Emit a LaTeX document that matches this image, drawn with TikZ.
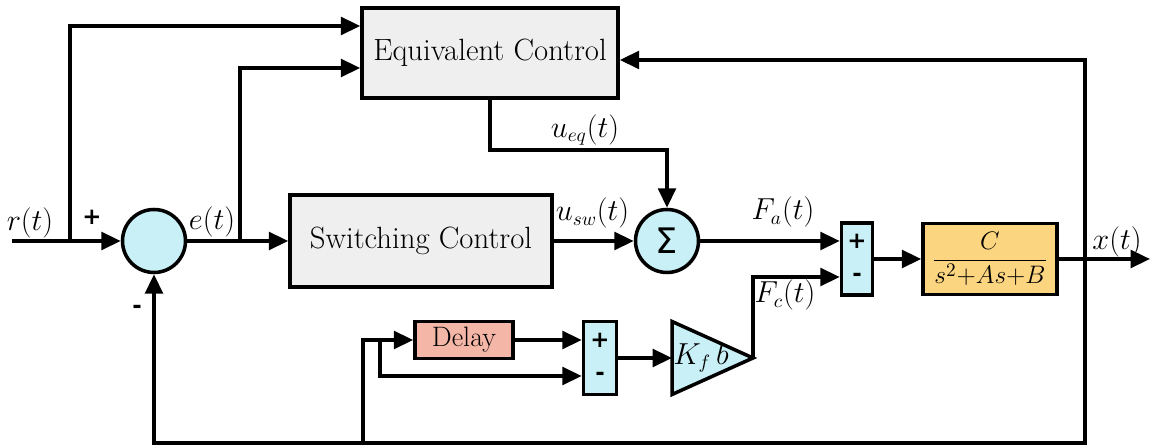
\documentclass[tikz,border=0pt]{standalone}
\usepackage{fontspec}
\newfontfamily\signfont{DejaVu Sans}
\usetikzlibrary{arrows.meta,calc}
\definecolor{mycyan}{RGB}{200,240,246}
\definecolor{mygray}{RGB}{239,239,239}
\definecolor{mysalmon}{RGB}{244,182,166}
\definecolor{myorange}{RGB}{252,213,128}
\tikzset{
  blk/.style={draw, line width=2pt, fill=mygray, minimum width=5.12cm, minimum height=1.8cm, font=\rmfamily\fontsize{17.5}{20}\selectfont},
  sumc/.style={draw, circle, line width=2pt, fill=mycyan, minimum size=1.26cm, inner sep=0pt},
  subblk/.style={draw, line width=2pt, fill=mycyan, minimum width=0.62cm, minimum height=1.44cm, inner sep=0pt},
  arr/.style={line width=2pt, -{Triangle[length=11pt,width=10pt]}},
  wire/.style={line width=2pt},
  sig/.style={font=\rmfamily\fontsize{16}{18}\selectfont, inner sep=1pt},
  pm/.style={font=\signfont\bfseries\fontsize{13}{13}\selectfont, inner sep=0pt}
}
\begin{document}
\begin{tikzpicture}
\useasboundingbox (0,0) rectangle (23.1,8.96);

% blocks
\node[blk] (eqc) at (9.8,7.9) {Equivalent Control};
\node[blk, minimum width=5.24cm, minimum height=1.84cm] (swc) at (8.42,4.14) {Switching Control};
\node[sumc] (s1) at (3.08,4.14) {};
\node[sumc] (s2) at (13.34,4.14) {\signfont\fontsize{20}{20}\selectfont Σ};
\node[subblk] (d1) at (17.14,3.78) {};
\node[draw, line width=2pt, fill=myorange, minimum width=2.68cm, minimum height=1.42cm, inner sep=0pt] (plant) at (19.8,3.78)
  {\fontsize{15.5}{17}\selectfont$\displaystyle\frac{C}{s^2{+}As{+}B}$};
\node[draw, line width=2pt, fill=mysalmon, minimum width=1.96cm, minimum height=0.74cm, font=\rmfamily\fontsize{16}{18}\selectfont] (dly) at (9.28,2.16) {Delay};
\node[subblk, minimum width=0.66cm, minimum height=1.46cm] (d2) at (12,1.8) {};

% gain
\coordinate (gw) at (13.44,1.8);
\coordinate (gt) at (15.06,1.8);
\draw[wire, fill=mycyan] (13.44,2.53) -- (gt) -- (13.44,1.07) -- cycle;
\node[sig] (gain) at (14.02,1.8) {$K_f\,b$};

% signs
\node[pm] (d1p) at ([yshift=0.36cm]d1.center) {+};
\node[pm] (d1m) at ([yshift=-0.36cm]d1.center) {-};
\node[pm] (d2p) at ([yshift=0.36cm]d2.center) {+};
\node[pm] (d2m) at ([yshift=-0.36cm]d2.center) {-};
\node[pm] (s1p) at (1.84,4.62) {+};
\node[pm] (s1m) at (2.74,2.78) {-};

% points
\coordinate (rin) at (0.24,4.14);
\coordinate (rb) at (1.4,4.14);
\coordinate (eb) at (4.8,4.14);
\coordinate (fb) at (21.7,3.78);
\coordinate (fbot) at (21.7,0.1);
\coordinate (db) at (7.26,0.1);
\coordinate (dk) at (7.6,2.16);
\coordinate (xout) at (23.0,3.78);

% connections
\draw[arr] (rin) -- (s1);
\draw[arr] (rb) |- ([yshift=0.54cm]eqc.west);
\draw[arr] (eb) |- ([yshift=-0.3cm]eqc.west);
\draw[arr] (s1) -- (swc);
\draw[arr] (swc) -- (s2);
\draw[arr] (eqc.south) -- ++(0,-1.0) -| (s2.north);
\draw[arr] (s2) -- (d1.west |- s2);
\draw[arr] (d1) -- (plant);
\draw[arr] (plant) -- (xout);
\draw[arr] (fb) |- ([yshift=-0.14cm]eqc.east);
\draw[arr] (fb) -- (fbot) -| (s1.south);
\draw[arr] (db) |- (dly.west);
\draw[arr] (dk) |- ([yshift=-0.36cm]d2.west);
\draw[arr] (dly) -- (d2.west |- dly);
\draw[arr] (d2) -- (gw);
\draw[arr] (gt) |- ([yshift=-0.36cm]d1.west);

% labels
\node[sig] (lr) at (0.6,4.5) {$r(t)$};
\node[sig] (le) at (4.24,4.52) {$e(t)$};
\node[sig] (lueq) at (11.7,6.36) {$u_{eq}(t)$};
\node[sig] (lusw) at (11.85,4.7) {$u_{sw}(t)$};
\node[sig] (lfa) at (15.66,4.72) {$F_a(t)$};
\node[sig] (lfc) at (15.7,3.06) {$F_c(t)$};
\node[sig] (lx) at (22.34,4.12) {$x(t)$};
\end{tikzpicture}
\end{document}
